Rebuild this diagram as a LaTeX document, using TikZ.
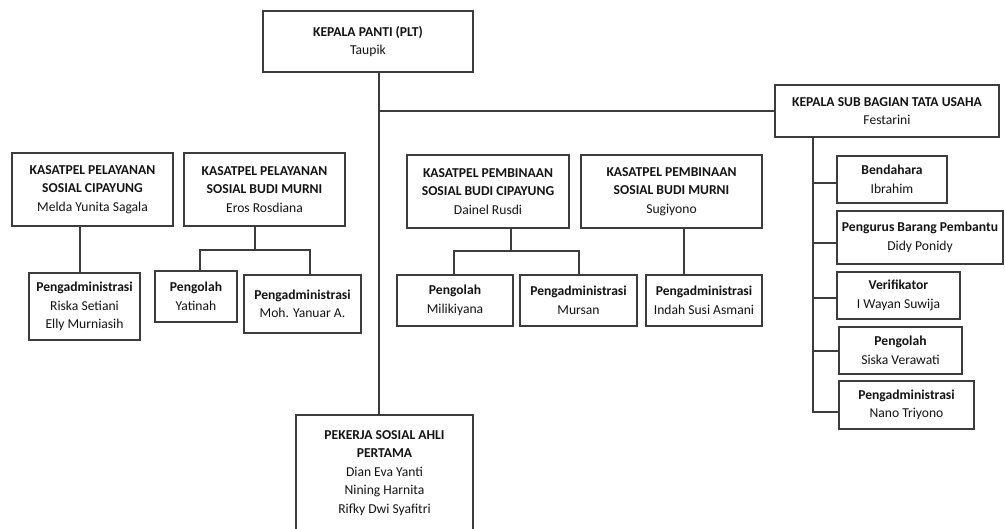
\documentclass[tikz,border=0pt]{standalone}
\usepackage{fontspec}
\setmainfont{Carlito}
\definecolor{linec}{HTML}{3C3C3C}
\definecolor{textc}{HTML}{141414}
\begin{document}
\begin{tikzpicture}[x=1pt,y=-1pt,
  box/.style={draw=linec, line width=1.2pt, rectangle, inner sep=0pt, align=center,
    text=textc, font=\fontsize{13.6}{18.5}\selectfont, fill=white},
  conn/.style={draw=linec, line width=1.2pt}]
\useasboundingbox (0,0) rectangle (1005,529);
\fill[white] (0,0) rectangle (1005,529);

% top
\node[box, minimum width=210pt, minimum height=61pt] (kp) at (368,41.5)
  {\textbf{KEPALA PANTI (PLT)}\\Taupik};
\node[box, minimum width=224pt, minimum height=52pt] (ksb) at (887,111)
  {\textbf{KEPALA SUB BAGIAN TATA USAHA}\\Festarini};

% right column
\node[box, minimum width=110pt, minimum height=47pt] (bend) at (892,179.5)
  {\textbf{Bendahara}\\Ibrahim};
\node[box, minimum width=166pt, minimum height=53pt] (pengurus) at (920,237.5)
  {\textbf{Pengurus Barang Pembantu}\\Didy Ponidy};
\node[box, minimum width=123pt, minimum height=47pt] (verif) at (898.5,295.5)
  {\textbf{Verifikator}\\I Wayan Suwija};
\node[box, minimum width=123pt, minimum height=47pt] (pengolahT) at (900.5,350.5)
  {\textbf{Pengolah}\\Siska Verawati};
\node[box, minimum width=135pt, minimum height=48pt] (pengadmT) at (906.5,405)
  {\textbf{Pengadministrasi}\\Nano Triyono};

% kasatpel boxes
\node[box, minimum width=161pt, minimum height=73pt] (kp1) at (92.5,189.5)
  {\textbf{KASATPEL PELAYANAN}\\\textbf{SOSIAL CIPAYUNG}\\Melda Yunita Sagala};
\node[box, minimum width=161pt, minimum height=73pt] (kp2) at (264.5,189.5)
  {\textbf{KASATPEL PELAYANAN}\\\textbf{SOSIAL BUDI MURNI}\\Eros Rosdiana};
\node[box, minimum width=162pt, minimum height=73pt] (kp3) at (488,191.5)
  {\textbf{KASATPEL PEMBINAAN}\\\textbf{SOSIAL BUDI CIPAYUNG}\\Dainel Rusdi};
\node[box, minimum width=181pt, minimum height=73pt] (kp4) at (671.5,191.5)
  {\textbf{KASATPEL PEMBINAAN}\\\textbf{SOSIAL BUDI MURNI}\\Sugiyono};

% sub boxes
\node[box, minimum width=111pt, minimum height=67pt] (riska) at (84.5,306.5)
  {\textbf{Pengadministrasi}\\Riska Setiani\\Elly Murniasih};
\node[box, minimum width=82pt, minimum height=51pt] (yat) at (196,296.5)
  {\textbf{Pengolah}\\Yatinah};
\node[box, minimum width=117pt, minimum height=58pt] (moh) at (302.5,304)
  {\textbf{Pengadministrasi}\\Moh. Yanuar A.};
\node[box, minimum width=116pt, minimum height=51pt] (mili) at (455,300.5)
  {\textbf{Pengolah}\\Milikiyana};
\node[box, minimum width=117pt, minimum height=51pt] (mursan) at (578.5,300.5)
  {\textbf{Pengadministrasi}\\Mursan};
\node[box, minimum width=116pt, minimum height=51pt] (indah) at (704,300.5)
  {\textbf{Pengadministrasi}\\Indah Susi Asmani};

% pekerja
\node[box, minimum width=177pt, minimum height=116pt] (pek) at (384.5,473)
  {\textbf{PEKERJA SOSIAL AHLI}\\\textbf{PERTAMA}\\Dian Eva Yanti\\Nining Harnita\\Rifky Dwi Syafitri};

% connector coordinates
\coordinate (trunk) at (379,111);
\coordinate (ksbx) at (813,0);
\coordinate (b2) at (255,250);
\coordinate (b3) at (511,251);

% connectors
\draw[conn] (kp.south -| trunk) -- (pek.north -| trunk);
\draw[conn] (trunk) -- (ksb.west);
\draw[conn] (ksb.south -| ksbx) |- ([yshift=-7pt]pengadmT.west);
\draw[conn] ([yshift=-3.5pt]bend.west -| ksbx) -- ([yshift=-3.5pt]bend.west);
\draw[conn] ([yshift=-5.5pt]pengurus.west -| ksbx) -- ([yshift=-5.5pt]pengurus.west);
\draw[conn] ([yshift=-2.5pt]verif.west -| ksbx) -- ([yshift=-2.5pt]verif.west);
\draw[conn] ([yshift=-0.5pt]pengolahT.west -| ksbx) -- ([yshift=-0.5pt]pengolahT.west);

\draw[conn] (kp1.south -| 80,0) -- (riska.north -| 80,0);
\draw[conn] (kp2.south -| b2) -- (b2);
\draw[conn] (yat.north -| 200,0) |- (b2) -| (moh.north -| 310,0);
\draw[conn] (kp3.south -| b3) -- (b3);
\draw[conn] (mili.north -| 454,0) |- (b3) -| (mursan.north -| 579,0);
\draw[conn] (kp4.south -| 684,0) -- (indah.north -| 684,0);
\end{tikzpicture}
\end{document}
